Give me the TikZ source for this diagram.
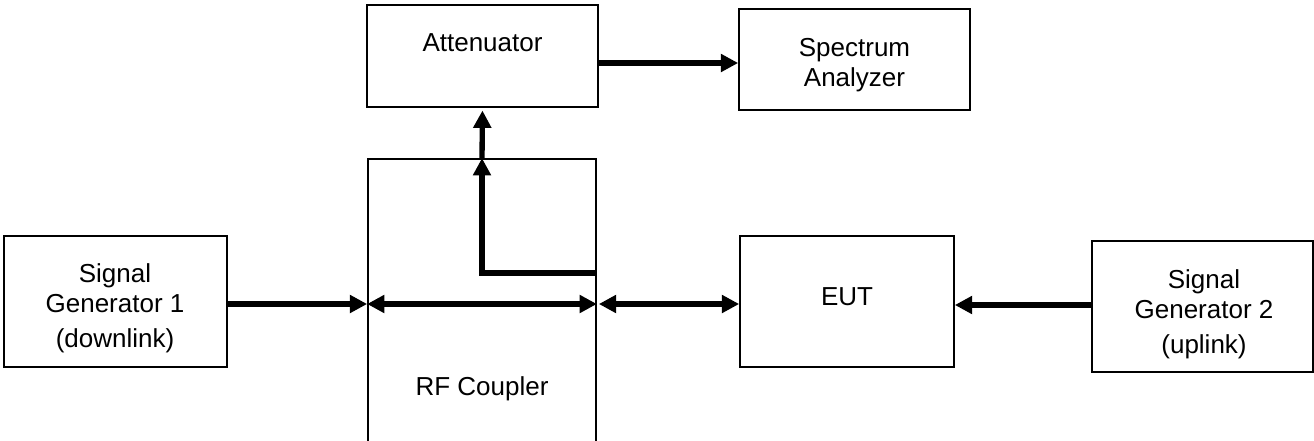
\documentclass[tikz,border=0pt]{standalone}
\usepackage{fontspec}
\setmainfont{Liberation Sans}
\usetikzlibrary{arrows.meta}
\tikzset{
  x=0.75pt, y=-0.75pt,
  box/.style 2 args={draw, line width=1.3pt, inner sep=0pt, minimum width=#1*0.75pt, minimum height=#2*0.75pt},
  lbl/.style={align=center, inner sep=0pt, font=\fontsize{19.5}{22.5}\selectfont},
  arr/.style={line width=4pt, -{Triangle[length=13pt,width=13pt]}},
  darr/.style={line width=4pt, {Triangle[length=13pt,width=13pt]}-{Triangle[length=13pt,width=13pt]}},
}
\begin{document}
\begin{tikzpicture}
\useasboundingbox (0,0) rectangle (1314,440);
% boxes
\node[box={231}{102}] (att) at (482.5,56) {};
\node[box={231}{101}] (sa) at (854.5,59.5) {};
\node[box={228}{283}] (cpl) at (482,300.5) {};
\node[box={223}{131}] (sg1) at (115.5,301.5) {};
\node[box={214}{131}] (eut) at (847,301.5) {};
\node[box={221}{131}] (sg2) at (1202.5,306.5) {};
% labels
\node[lbl] (tatt) at (482.5,43) {Attenuator};
\node[lbl] (tsa) at (854.5,65) {Spectrum\\Analyzer};
\node[lbl] (tcpl) at (482,389) {RF Coupler};
\node[lbl] (tsg1) at (115,308.5) {Signal\\Generator 1\\[3.75pt](downlink)};
\node[lbl] (teut) at (847,296.5) {EUT};
\node[lbl] (tsg2) at (1204,314) {Signal\\Generator 2\\[3.75pt](uplink)};
% level coordinates
\coordinate (ya) at (0,63);
\coordinate (yh) at (0,304);
\coordinate (yl) at (0,273);
\coordinate (yg) at (0,305);
% connectors
\draw[arr] (att.east |- ya) -- (sa.west |- ya);
\draw[arr] (sg1.east |- yh) -- (cpl.west |- yh);
\draw[darr] (cpl.west |- yh) -- (cpl.east |- yh);
\draw[darr] ([xshift=1.5pt]cpl.east |- yh) -- (eut.west |- yh);
\draw[arr] (sg2.west |- yg) -- (eut.east |- yg);
\draw[arr, line join=miter] (cpl.east |- yl) -| (cpl.north);
\draw[arr, shorten >=2pt] (cpl.north) -- (att.south);
\end{tikzpicture}
\end{document}
